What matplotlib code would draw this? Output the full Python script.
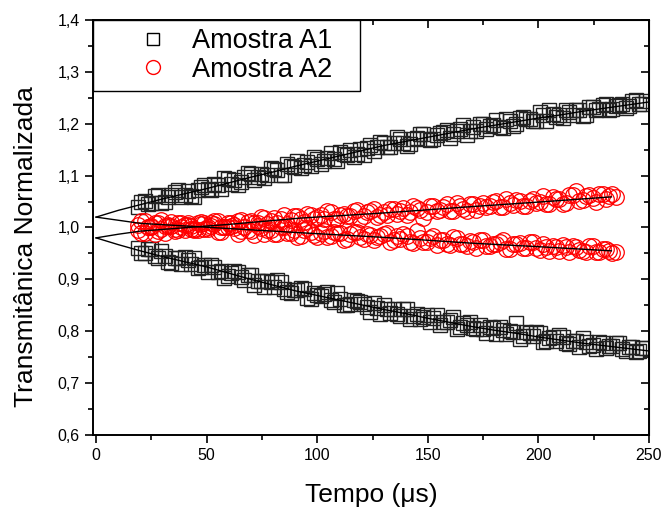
import numpy as np
import matplotlib.pyplot as plt
from matplotlib.ticker import MultipleLocator, FuncFormatter

plt.rcParams['font.family'] = ['Liberation Sans', 'DejaVu Sans']

# tempo (us) das amostras (duas grades intercaladas)
t_a1 = np.arange(19, 248, 3)
t_a1b = np.arange(20.5, 249, 3)
t_a2 = np.arange(19, 236, 3)
t_a2b = np.arange(20.5, 234, 3)

# Amostra A1 - ramo superior e inferior
a1_sup = [1.039, 1.051, 1.048, 1.062, 1.050, 1.062, 1.073, 1.062, 1.060, 1.073,
          1.081, 1.072, 1.081, 1.096, 1.083, 1.081, 1.098, 1.103, 1.098, 1.096,
          1.114, 1.110, 1.101, 1.119, 1.129, 1.121, 1.119, 1.133, 1.128, 1.143,
          1.129, 1.142, 1.149, 1.142, 1.139, 1.159, 1.155, 1.162, 1.155, 1.174,
          1.163, 1.161, 1.173, 1.180, 1.169, 1.178, 1.185, 1.173, 1.186, 1.197,
          1.186, 1.186, 1.200, 1.195, 1.207, 1.192, 1.205, 1.200, 1.213, 1.209,
          1.205, 1.216, 1.226, 1.213, 1.211, 1.222, 1.227, 1.214, 1.232, 1.226,
          1.237, 1.226, 1.234, 1.238, 1.234, 1.246, 1.239]
a1_sup_b = [1.050, 1.045, 1.061, 1.047, 1.059, 1.068, 1.058, 1.070, 1.059, 1.079,
            1.074, 1.084, 1.074, 1.094, 1.091, 1.088, 1.106, 1.092, 1.104, 1.102,
            1.113, 1.102, 1.122, 1.117, 1.115, 1.127, 1.136, 1.122, 1.134, 1.132,
            1.145, 1.140, 1.135, 1.152, 1.153, 1.147, 1.165, 1.155, 1.162, 1.170,
            1.158, 1.171, 1.181, 1.170, 1.170, 1.182, 1.188, 1.181, 1.190, 1.178,
            1.193, 1.200, 1.189, 1.197, 1.194, 1.210, 1.196, 1.211, 1.209, 1.206,
            1.222, 1.205, 1.219, 1.216, 1.226, 1.216, 1.226, 1.216, 1.233, 1.229,
            1.239, 1.229, 1.237, 1.230, 1.243, 1.238, 1.244]
a1_inf = [0.961, 0.950, 0.958, 0.941, 0.945, 0.931, 0.941, 0.944, 0.929, 0.921,
          0.928, 0.928, 0.914, 0.903, 0.912, 0.914, 0.899, 0.909, 0.896, 0.885,
          0.894, 0.898, 0.881, 0.874, 0.879, 0.882, 0.862, 0.869, 0.871, 0.860,
          0.873, 0.851, 0.853, 0.859, 0.853, 0.838, 0.845, 0.851, 0.835, 0.834,
          0.842, 0.824, 0.833, 0.827, 0.818, 0.832, 0.817, 0.822, 0.804, 0.815,
          0.818, 0.804, 0.805, 0.809, 0.794, 0.802, 0.800, 0.815, 0.791, 0.796,
          0.799, 0.780, 0.787, 0.782, 0.788, 0.775, 0.782, 0.787, 0.772, 0.765,
          0.778, 0.771, 0.777, 0.765, 0.769, 0.760, 0.768]
a1_inf_b = [0.951, 0.958, 0.946, 0.954, 0.934, 0.942, 0.930, 0.938, 0.941, 0.924,
            0.915, 0.924, 0.917, 0.906, 0.917, 0.904, 0.908, 0.889, 0.897, 0.897,
            0.885, 0.894, 0.876, 0.879, 0.883, 0.865, 0.873, 0.867, 0.875, 0.857,
            0.862, 0.850, 0.860, 0.856, 0.846, 0.854, 0.834, 0.842, 0.843, 0.830,
            0.843, 0.829, 0.824, 0.832, 0.826, 0.813, 0.818, 0.827, 0.808, 0.813,
            0.806, 0.813, 0.797, 0.806, 0.808, 0.795, 0.798, 0.786, 0.798, 0.790,
            0.796, 0.781, 0.788, 0.792, 0.777, 0.782, 0.770, 0.780, 0.773, 0.779,
            0.768, 0.771, 0.777, 0.761, 0.769, 0.761, 0.768]

# Amostra A2 - ramo superior e inferior
a2_sup = [0.996, 0.989, 1.002, 0.994, 0.989, 1.002, 1.008, 0.996, 1.002, 0.995,
          1.009, 1.003, 1.013, 1.000, 1.008, 1.013, 1.000, 1.013, 1.008, 1.019,
          1.013, 1.009, 1.025, 1.015, 1.022, 1.011, 1.025, 1.021, 1.017, 1.030,
          1.017, 1.026, 1.023, 1.034, 1.023, 1.032, 1.020, 1.030, 1.036, 1.026,
          1.037, 1.030, 1.037, 1.018, 1.042, 1.031, 1.040, 1.031, 1.047, 1.036,
          1.045, 1.034, 1.048, 1.042, 1.051, 1.040, 1.047, 1.053, 1.041, 1.052,
          1.047, 1.060, 1.046, 1.055, 1.045, 1.062, 1.071, 1.053, 1.063, 1.050,
          1.064, 1.061, 1.058]
a2_sup_b = [0.990, 1.000, 0.988, 0.998, 1.005, 0.994, 1.001, 1.008, 0.995, 1.006,
            1.001, 1.013, 1.000, 1.009, 0.999, 1.014, 1.010, 1.008, 1.020, 1.007,
            1.018, 1.017, 1.007, 1.022, 1.017, 1.026, 1.016, 1.024, 1.031, 1.016,
            1.024, 1.022, 1.031, 1.017, 1.030, 1.035, 1.025, 1.024, 1.035, 1.032,
            1.024, 1.041, 1.033, 1.030, 1.041, 1.034, 1.045, 1.032, 1.042, 1.031,
            1.046, 1.042, 1.039, 1.050, 1.039, 1.055, 1.044, 1.051, 1.041, 1.054,
            1.050, 1.046, 1.059, 1.055, 1.047, 1.063, 1.052, 1.061, 1.056, 1.065,
            1.054, 1.064]
a2_inf = [1.004, 1.012, 1.001, 1.009, 1.003, 1.011, 0.996, 1.005, 0.997, 1.008,
          0.998, 1.008, 0.992, 1.000, 1.002, 0.988, 1.001, 0.993, 1.002, 0.988,
          0.996, 0.988, 1.001, 0.990, 0.982, 0.995, 0.991, 0.982, 0.994, 0.984,
          0.990, 0.976, 0.987, 0.992, 0.978, 0.986, 0.981, 0.987, 0.973, 0.983,
          0.987, 0.973, 0.994, 0.973, 0.980, 0.966, 0.975, 0.966, 0.979, 0.969,
          0.974, 0.960, 0.975, 0.964, 0.968, 0.975, 0.959, 0.968, 0.960, 0.973,
          0.961, 0.968, 0.954, 0.963, 0.966, 0.953, 0.963, 0.955, 0.965, 0.952,
          0.959, 0.955, 0.953]
a2_inf_b = [1.012, 1.001, 1.008, 1.014, 1.002, 0.997, 1.008, 1.004, 0.997, 1.010,
            0.998, 1.006, 0.991, 1.001, 1.004, 0.993, 0.996, 0.986, 0.999, 0.996,
            0.987, 1.000, 0.990, 0.995, 0.983, 0.999, 0.986, 0.989, 0.982, 0.992,
            0.989, 0.977, 0.991, 0.982, 0.988, 0.976, 0.983, 0.990, 0.976, 0.978,
            0.984, 0.970, 0.980, 0.973, 0.983, 0.975, 0.968, 0.981, 0.969, 0.964,
            0.973, 0.976, 0.964, 0.968, 0.973, 0.958, 0.968, 0.970, 0.961, 0.972,
            0.957, 0.963, 0.965, 0.954, 0.963, 0.965, 0.956, 0.953, 0.964, 0.953,
            0.958, 0.951]

# curvas de ajuste
t_fit1 = [0, 10, 20, 30, 40, 50, 60, 70, 80, 90, 100, 110, 120, 130, 140,
          150, 160, 170, 180, 190, 200, 210, 220, 230, 240, 250]
fit_a1_sup = [1.020, 1.033, 1.044, 1.055, 1.065, 1.075, 1.086, 1.097, 1.107,
              1.118, 1.128, 1.138, 1.148, 1.158, 1.166, 1.174, 1.182, 1.190,
              1.197, 1.204, 1.211, 1.217, 1.224, 1.230, 1.236, 1.242]
fit_a1_inf = [0.980, 0.967, 0.955, 0.944, 0.934, 0.924, 0.912, 0.900, 0.889,
              0.878, 0.869, 0.860, 0.851, 0.842, 0.834, 0.825, 0.817, 0.809,
              0.802, 0.796, 0.789, 0.783, 0.777, 0.772, 0.767, 0.762]
t_fit2 = [0, 10, 20, 60, 92, 130, 169, 200, 233]
fit_a2_sup = [0.980, 0.987, 0.993, 1.006, 1.018, 1.028, 1.040, 1.049, 1.059]
fit_a2_inf = [1.020, 1.014, 1.008, 0.998, 0.990, 0.981, 0.970, 0.963, 0.955]

fig = plt.figure(figsize=(6.67, 5.14), dpi=100)
ax = fig.add_axes([0.1394, 0.1537, 0.8336, 0.8074])

sq = dict(marker='s', ms=9.8, mfc='none', mec='#222222', mew=1.0, ls='none')
ci = dict(marker='o', ms=11.2, mfc='none', mec='red', mew=0.9, ls='none')

ax.plot(t_a1, a1_sup, **sq)
ax.plot(t_a1b, a1_sup_b, **sq)
ax.plot(t_a1, a1_inf, **sq)
ax.plot(t_a1b, a1_inf_b, **sq)
ax.plot(t_a2, a2_sup, **ci)
ax.plot(t_a2b, a2_sup_b, **ci)
ax.plot(t_a2, a2_inf, **ci)
ax.plot(t_a2b, a2_inf_b, **ci)

for tf, yf in [(t_fit1, fit_a1_sup), (t_fit1, fit_a1_inf),
               (t_fit2, fit_a2_sup), (t_fit2, fit_a2_inf)]:
    ax.plot(tf, yf, color='black', lw=1.0)

ax.set_xlim(-1.4, 250)
ax.set_ylim(0.6, 1.4)
ax.xaxis.set_major_locator(MultipleLocator(50))
ax.xaxis.set_minor_locator(MultipleLocator(25))
ax.yaxis.set_major_locator(MultipleLocator(0.1))
ax.yaxis.set_minor_locator(MultipleLocator(0.05))
ax.yaxis.set_major_formatter(FuncFormatter(lambda v, p: f'{v:.1f}'.replace('.', ',')))

for s in ax.spines.values():
    s.set_linewidth(1.4)
ax.tick_params(which='both', direction='out', width=1.2, labelsize=11.5)
ax.tick_params(which='major', length=6)
ax.tick_params(which='minor', length=3.5)
# eixos superior e direito com ticks para dentro
ax2 = ax.secondary_xaxis('top')
ax2.xaxis.set_major_locator(MultipleLocator(50))
ax2.xaxis.set_minor_locator(MultipleLocator(25))
ax2.tick_params(which='both', direction='in', width=1.2, labelbottom=False, labeltop=False)
ax2.tick_params(which='major', length=6)
ax2.tick_params(which='minor', length=3.5)
ay2 = ax.secondary_yaxis('right')
ay2.yaxis.set_major_locator(MultipleLocator(0.1))
ay2.yaxis.set_minor_locator(MultipleLocator(0.05))
ay2.tick_params(which='both', direction='in', width=1.2, labelleft=False, labelright=False)
ay2.tick_params(which='major', length=6)
ay2.tick_params(which='minor', length=3.5)

ax.set_xlabel('Tempo (μs)', fontsize=19, labelpad=14)
ax.set_ylabel('Transmitânica Normalizada', fontsize=19)
ax.yaxis.set_label_coords(-0.098, 0.453)

h1, = ax.plot([], [], marker='s', ms=8, mfc='none', mec='black', mew=1.0, ls='none')
h2, = ax.plot([], [], marker='o', ms=10, mfc='none', mec='red', mew=1.0, ls='none')
leg = ax.legend([h1, h2], ['Amostra A1', 'Amostra A2'], loc='upper left',
                bbox_to_anchor=(0, 0, 0.48, 1), mode='expand', borderaxespad=0,
                fancybox=False, edgecolor='black', fontsize=19.5,
                handletextpad=-0.45, borderpad=0.3, labelspacing=0.1,
                handlelength=3.8)
leg.get_frame().set_linewidth(1.0)
leg.get_frame().set_alpha(1)

fig.savefig('out.png', dpi=100)
